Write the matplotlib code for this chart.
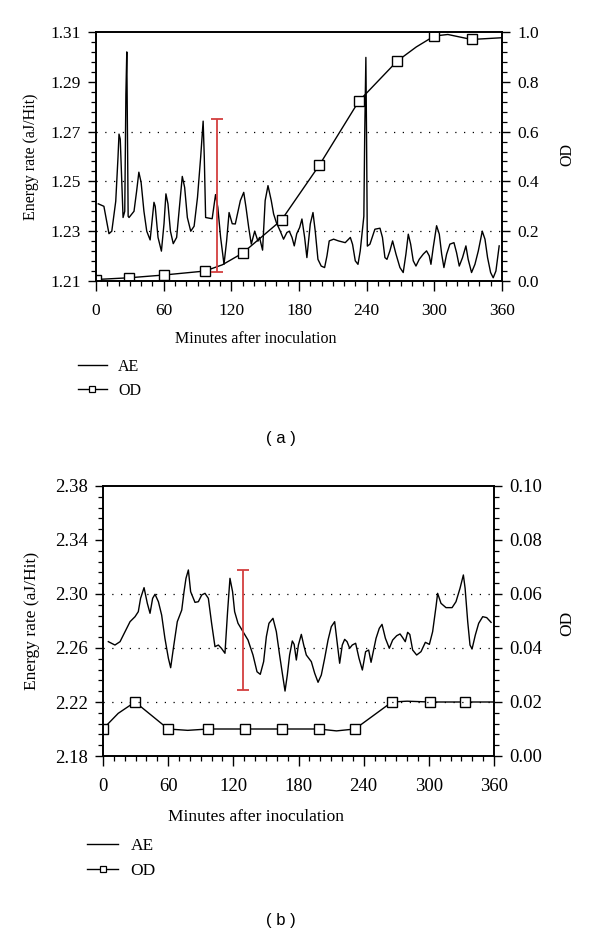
import matplotlib
matplotlib.use('Agg')
import matplotlib.pyplot as plt
from matplotlib.ticker import MultipleLocator, FormatStrFormatter
from matplotlib.lines import Line2D

plt.rcParams['font.family'] = ['Liberation Serif', 'DejaVu Serif']

# ---- panel (a): acoustic emission energy rate and OD ----
ae_a_t = [2, 7, 11.5, 14, 17.5, 19.5, 20.4, 21.5, 24, 25.5, 26.5, 27.3, 28.5, 29.3, 33.7, 36, 38, 40,
          42.5, 45, 48, 51.4, 52.5, 55, 58, 60.3, 62, 63.8, 66, 68.5, 71.5, 74.5, 76.5, 78.6, 81, 84,
          87, 90, 92.8, 95, 96, 97.2, 103, 106, 108, 110.5, 113.5, 115.8, 118, 120.8, 123.5, 128,
          131, 133, 135.4, 137.7, 140.7, 143.6, 145, 147.7, 150, 152.5, 155.4, 157.5, 159.9, 163.4,
          166.3, 169.3, 171.4, 173.8, 175.8, 178, 180.6, 182.6, 185, 187, 190, 192.4, 194.4, 196.8,
          199.7, 202.7, 204.8, 206.8, 210.7, 215, 221, 225.5, 227.5, 229.9, 232.3, 234.3, 236.4,
          237.5, 238.3, 239.3, 239.9, 240.6, 242.9, 247.3, 251.8, 254, 256.2, 258, 260.6, 263, 266,
          269.5, 272.4, 274.8, 276.9, 279, 281.3, 283.7, 286.6, 290.2, 293.1, 295.5, 297, 299, 302,
          304.4, 306.5, 308.5, 310.9, 313.8, 317.4, 319.7, 322.1, 325, 328, 330, 333, 336, 339,
          342.5, 344.9, 347.2, 349.9, 352.2, 354.6, 357.5]
ae_a_v = [1.241, 1.240, 1.229, 1.230, 1.242, 1.2596, 1.269, 1.267, 1.2355, 1.238, 1.285, 1.302, 1.236,
          1.2355, 1.238, 1.246, 1.2537, 1.2496, 1.238, 1.230, 1.2265, 1.2416, 1.240, 1.2275, 1.222,
          1.233, 1.245, 1.241, 1.230, 1.225, 1.2275, 1.2423, 1.252, 1.2476, 1.2355, 1.230, 1.232,
          1.2436, 1.2597, 1.2742, 1.260, 1.2355, 1.235, 1.2447, 1.2396, 1.2275, 1.2167, 1.226, 1.2375,
          1.233, 1.2329, 1.2423, 1.2456, 1.2396, 1.2315, 1.2248, 1.230, 1.226, 1.2275, 1.2224, 1.2423,
          1.2483, 1.2423, 1.2369, 1.2335, 1.230, 1.2268, 1.2295, 1.230, 1.2275, 1.2241, 1.229, 1.2315,
          1.2349, 1.2275, 1.2194, 1.2329, 1.2375, 1.230, 1.2187, 1.216, 1.2154, 1.2201, 1.2261,
          1.2268, 1.2261, 1.2254, 1.2275, 1.2247, 1.2181, 1.2167, 1.2221, 1.2315, 1.236, 1.270,
          1.2998, 1.268, 1.224, 1.2248, 1.2308, 1.2312, 1.2275, 1.2194, 1.2187, 1.2221, 1.2261,
          1.2208, 1.2154, 1.2134, 1.2208, 1.2288, 1.2248, 1.2181, 1.216, 1.2187, 1.2208, 1.2221,
          1.2201, 1.2167, 1.2234, 1.2322, 1.2288, 1.2208, 1.2154, 1.2208, 1.2248, 1.2254, 1.2214,
          1.216, 1.2194, 1.2241, 1.2187, 1.2134, 1.2167, 1.2221, 1.230, 1.2268, 1.2194, 1.2134,
          1.2113, 1.214, 1.2241]

od_a_t = [0, 29.5, 60, 96.6, 112, 130, 164.5, 198, 233, 267, 284, 300, 312, 333, 360]
od_a_v = [0.006, 0.013, 0.024, 0.040, 0.065, 0.112, 0.245, 0.465, 0.722, 0.883, 0.94, 0.984, 0.99, 0.97, 0.977]
od_a_marks = [0, 1, 2, 3, 5, 6, 7, 8, 9, 11, 13]

err_a_t, err_a_v, err_a_e = 107, 1.2443, 0.0307

# ---- panel (b) ----
ae_b_t = [4.9, 11, 15.7, 20.3, 24.9, 29.5, 32.5, 34.6, 37.8, 40.8, 43.3, 45.7, 47.9, 51, 54, 57, 60.2,
          62.3, 64.8, 68.4, 72.5, 74.6, 76.4, 78.6, 80.7, 84.7, 87.8, 90.9, 93.9, 97, 100, 103.1,
          106.2, 109, 112.3, 114.7, 116.9, 119.3, 121.2, 124.3, 128.9, 133.5, 138.1, 141.8, 144.8,
          147.9, 150.4, 152.8, 156.5, 159.6, 162.6, 165.1, 167.6, 169.7, 171.8, 174.3, 176, 178,
          179.9, 182.6, 184.8, 187.2, 191.8, 194.9, 198, 201, 204.1, 207.2, 210.2, 213.3, 215.5,
          217.9, 220.3, 222.5, 224.7, 227.1, 229.5, 232.6, 235.7, 238.8, 241.8, 244.6, 246.8, 251.4,
          254.4, 256.9, 260, 263.6, 266.7, 270.4, 273.5, 275.9, 278.3, 280.5, 282.5, 285.1, 288.8,
          292.8, 296.8, 300.5, 303.5, 306.6, 308.1, 311.2, 315.8, 321.4, 325, 328.7, 331.8, 333.4,
          335.8, 337.9, 339.8, 342.8, 345.9, 349.6, 353.3, 357.3]
ae_b_v = [2.2647, 2.2622, 2.2647, 2.2721, 2.2795, 2.2832, 2.2869, 2.2968, 2.3047, 2.2931, 2.2857,
          2.2968, 2.2998, 2.2943, 2.2844, 2.2672, 2.2524, 2.2454, 2.2598, 2.2795, 2.2881, 2.3017,
          2.3116, 2.3178, 2.3017, 2.2938, 2.2943, 2.2993, 2.3005, 2.2968, 2.2783, 2.2610, 2.2622,
          2.2598, 2.2561, 2.2869, 2.3116, 2.3017, 2.2869, 2.2783, 2.2721, 2.2659, 2.2548, 2.2424,
          2.2405, 2.2499, 2.2684, 2.2783, 2.2820, 2.2721, 2.2548, 2.2413, 2.2281, 2.2400, 2.2548,
          2.2652, 2.2627, 2.2511, 2.2622, 2.2701, 2.2622, 2.2548, 2.2499, 2.2413, 2.2346, 2.2400,
          2.2524, 2.2659, 2.2758, 2.2795, 2.2647, 2.2487, 2.2622, 2.2664, 2.2647, 2.2598, 2.2622,
          2.2635, 2.2524, 2.2437, 2.2573, 2.2585, 2.2494, 2.2672, 2.2746, 2.2775, 2.2672, 2.2598,
          2.2659, 2.2691, 2.2704, 2.2677, 2.2647, 2.2716, 2.2700, 2.2585, 2.2548, 2.2573, 2.2642,
          2.2627, 2.2721, 2.2906, 2.3005, 2.2931, 2.2899, 2.2899, 2.2943, 2.3042, 2.3141, 2.3042,
          2.2795, 2.2622, 2.2593, 2.2696, 2.2783, 2.2832, 2.2825, 2.2790]

od_b_t = [0, 14, 29.5, 46, 60, 78, 97, 131, 165, 198.5, 215, 232, 266, 280, 301, 333, 360]
od_b_v = [0.010, 0.0158, 0.020, 0.0146, 0.010, 0.0095, 0.010, 0.010, 0.010, 0.010, 0.0093, 0.010,
          0.020, 0.0203, 0.020, 0.020, 0.020]
od_b_marks = [0, 2, 4, 6, 7, 8, 9, 11, 12, 14, 15]

err_b_t, err_b_v, err_b_e = 129, 2.2734, 0.0444

RED = '#d33f3f'
W, H = 600, 935


def panel(rect, fs, tfs, ae_t, ae_v, od_t, od_v, marks, err, ylim, y2lim, ymaj, ymin, y2maj, y2min,
          yfmt, y2fmt, grid):
    ax = fig.add_axes(rect)
    ax2 = ax.twinx()
    ax.set_zorder(ax2.get_zorder() + 1)
    ax.patch.set_visible(False)

    for g in grid:
        ax.axhline(g, color='k', lw=0.9, ls=(0, (1, 6)), zorder=1)
    ax.plot(ae_t, ae_v, color='k', lw=1.0, zorder=3)
    ax.errorbar([err[0]], [err[1]], yerr=[err[2]], color=RED, lw=1.3, capsize=4, capthick=1.3,
                fmt='none', zorder=4)
    ax2.plot(od_t, od_v, color='k', lw=1.0, marker='s', markevery=marks, markersize=6.5,
             markerfacecolor='white', markeredgecolor='k', markeredgewidth=1.0)

    ax.set_xlim(0, 360)
    ax.set_ylim(*ylim)
    ax2.set_ylim(*y2lim)
    ax.xaxis.set_major_locator(MultipleLocator(60))
    ax.xaxis.set_minor_locator(MultipleLocator(10))
    # left ticks start at the lower limit (1.21 / 2.18), not at a round multiple
    ax.yaxis.set_major_locator(MultipleLocator(ymaj, offset=ylim[0] % ymaj))
    ax.yaxis.set_minor_locator(MultipleLocator(ymin, offset=ylim[0] % ymin))
    ax.yaxis.set_major_formatter(FormatStrFormatter(yfmt))
    ax2.yaxis.set_major_locator(MultipleLocator(y2maj))
    ax2.yaxis.set_minor_locator(MultipleLocator(y2min))
    ax2.yaxis.set_major_formatter(FormatStrFormatter(y2fmt))

    for a in (ax, ax2):
        a.tick_params(which='major', direction='out', length=6, width=1.0, labelsize=tfs, pad=5)
        a.tick_params(which='minor', direction='out', length=3.5, width=0.9)
        for s in a.spines.values():
            s.set_linewidth(1.2)
    ax.tick_params(axis='x', which='major', length=7, pad=9)
    ax.tick_params(axis='x', which='both', top=False)
    ax.tick_params(axis='y', which='both', right=False)
    return ax, ax2


fig = plt.figure(figsize=(W / 100, H / 100), dpi=100)

# (a)
fs_a = 11.5
ax_a, _ = panel([96 / W, 1 - 281 / H, 406 / W, 249 / H], fs_a, 12.5, ae_a_t, ae_a_v, od_a_t, od_a_v,
                od_a_marks, (err_a_t, err_a_v, err_a_e), (1.21, 1.31), (0, 1.0),
                0.02, 0.004, 0.2, 0.04, '%.2f', '%.1f', [1.23, 1.25, 1.27])
fig.text(31 / W, 1 - 157 / H, 'Energy rate (aJ/Hit)', rotation=90, ha='center', va='center', fontsize=fs_a)
fig.text(567 / W, 1 - 155 / H, 'OD', rotation=90, ha='center', va='center', fontsize=fs_a)
fig.text(256 / W, 1 - 339 / H, 'Minutes after inoculation', ha='center', va='center', fontsize=fs_a)
h_ae = Line2D([], [], color='k', lw=1.0)
h_od = Line2D([], [], color='k', lw=1.0, marker='s', markersize=5, markerfacecolor='white',
              markeredgecolor='k', markeredgewidth=0.9)
fig.legend([h_ae, h_od], ['AE', 'OD'], loc='upper left', bbox_to_anchor=(78 / W, 1 - 359 / H),
           frameon=False, borderpad=0, borderaxespad=0, handlelength=1.8, handletextpad=0.7,
           labelspacing=0.5, fontsize=fs_a)
fig.text(281 / W, 1 - 438 / H, '( a )', ha='center', va='center', fontsize=12,
         family=['Liberation Sans', 'DejaVu Sans'])

# (b)
fs_b = 12.5
ax_b, _ = panel([103 / W, 1 - 756 / H, 391 / W, 270 / H], fs_b, 13.5, ae_b_t, ae_b_v, od_b_t, od_b_v,
                od_b_marks, (err_b_t, err_b_v, err_b_e), (2.18, 2.38), (0, 0.10),
                0.04, 0.008, 0.02, 0.004, '%.2f', '%.2f', [2.22, 2.26, 2.30])
fig.text(32 / W, 1 - 621 / H, 'Energy rate (aJ/Hit)', rotation=90, ha='center', va='center', fontsize=fs_b)
fig.text(567 / W, 1 - 623 / H, 'OD', rotation=90, ha='center', va='center', fontsize=fs_b)
fig.text(256 / W, 1 - 817 / H, 'Minutes after inoculation', ha='center', va='center', fontsize=fs_b)
fig.legend([h_ae, h_od], ['AE', 'OD'], loc='upper left', bbox_to_anchor=(87 / W, 1 - 838 / H),
           frameon=False, borderpad=0, borderaxespad=0, handlelength=1.8, handletextpad=0.7,
           labelspacing=0.5, fontsize=fs_b)
fig.text(281 / W, 1 - 921 / H, '( b )', ha='center', va='center', fontsize=12,
         family=['Liberation Sans', 'DejaVu Sans'])

fig.savefig('out.png', dpi=100)
